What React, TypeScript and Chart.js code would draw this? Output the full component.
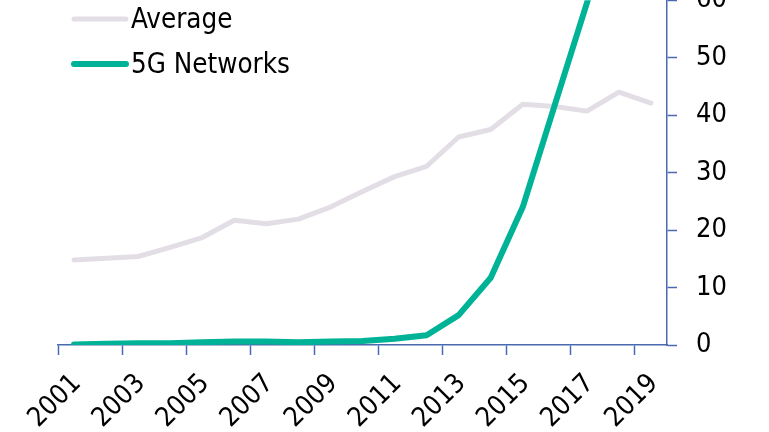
import { useEffect, useRef } from "react";
import { Chart, registerables } from "chart.js";

Chart.register(...registerables);

const years = ["2001", "2002", "2003", "2004", "2005", "2006", "2007", "2008", "2009", "2010", "2011", "2012", "2013", "2014", "2015", "2016", "2017", "2018", "2019"];
const averageValues = [14.8, 15.1, 15.4, 17.0, 18.7, 21.7, 21.1, 21.9, 24.0, 26.7, 29.3, 31.1, 36.2, 37.5, 41.9, 41.5, 40.7, 44.0, 42.1];
const networkValues = [0.1, 0.2, 0.3, 0.3, 0.5, 0.6, 0.6, 0.5, 0.6, 0.7, 1.1, 1.7, 5.2, 11.7, 24.0, 41.8, 59.5, 78.0, 95.0];
const seriesNames = ["Average", "5G Networks"];
const yMin = 0;
const yMax = 60;
const yStep = 10;

const AVG_COLOR = "#E3DEE6";
const NET_COLOR = "#00B396";
const AXIS_COLOR = "#4A6AAF";
const FONT_FAMILY = "'DejaVu Sans Condensed', 'DejaVu Sans', sans-serif";
const FONT_SIZE = 27;
const SHIFT = 35; // canvas is shifted up; top of plot area is cut at page top

const legendPlugin = {
  id: "insideLegend",
  afterDraw(chart: any) {
    const ctx = chart.ctx as CanvasRenderingContext2D;
    const rows = [
      { y: 19, base: 28 },
      { y: 64, base: 73 },
    ];
    ctx.save();
    chart.data.datasets.forEach((ds: any, i: number) => {
      const r = rows[i];
      ctx.beginPath();
      ctx.strokeStyle = ds.borderColor;
      ctx.lineWidth = ds.borderWidth;
      ctx.lineCap = "round";
      ctx.moveTo(74, r.y + SHIFT);
      ctx.lineTo(126, r.y + SHIFT);
      ctx.stroke();
      ctx.fillStyle = "#000000";
      ctx.font = `${FONT_SIZE + 0.5}px ${FONT_FAMILY}`;
      ctx.textAlign = "left";
      ctx.textBaseline = "alphabetic";
      ctx.fillText(ds.label, 131, r.base + SHIFT);
    });
    ctx.restore();
  },
};

export default function App() {
  const ref = useRef<HTMLCanvasElement | null>(null);

  useEffect(() => {
    document.body.style.margin = "0";
    if (!ref.current) return;
    const chart = new Chart(ref.current, {
      type: "line",
      data: {
        labels: years,
        datasets: [
          {
            label: seriesNames[0],
            data: averageValues,
            borderColor: AVG_COLOR,
            backgroundColor: AVG_COLOR,
            borderWidth: 5,
            pointRadius: 0,
            tension: 0,
            borderCapStyle: "round",
            borderJoinStyle: "round",
            order: 2,
          },
          {
            label: seriesNames[1],
            data: networkValues,
            borderColor: NET_COLOR,
            backgroundColor: NET_COLOR,
            borderWidth: 6,
            pointRadius: 0,
            tension: 0,
            borderCapStyle: "round",
            borderJoinStyle: "round",
            order: 1,
          },
        ],
      },
      options: {
        responsive: false,
        animation: false,
        events: [],
        layout: { padding: { top: SHIFT, left: 58, right: 0, bottom: 0 } },
        plugins: {
          legend: { display: false },
          tooltip: { enabled: false },
        },
        scales: {
          x: {
            type: "category",
            offset: true,
            grid: {
              display: true,
              offset: true,
              drawOnChartArea: false,
              drawTicks: true,
              tickLength: 10,
              tickWidth: 1.5,
              tickColor: (c: any) => (typeof c.index === "number" && c.index % 2 === 0 ? AXIS_COLOR : "rgba(0,0,0,0)"),
            },
            border: { display: true, color: AXIS_COLOR, width: 1.5 },
            ticks: {
              autoSkip: false,
              maxRotation: 45,
              minRotation: 45,
              padding: 13,
              labelOffset: 3,
              color: "#000000",
              font: { family: FONT_FAMILY, size: FONT_SIZE },
              callback: (_v: any, i: number) => (i % 2 === 0 ? years[i] : ""),
            },
            afterFit: (scale: any) => {
              scale.height = 87;
            },
          },
          y: {
            type: "linear",
            position: "right",
            min: yMin,
            max: yMax,
            grid: {
              display: true,
              drawOnChartArea: false,
              drawTicks: true,
              tickLength: 10,
              tickWidth: 1.5,
              tickColor: AXIS_COLOR,
            },
            border: { display: true, color: AXIS_COLOR, width: 1.5 },
            ticks: {
              stepSize: yStep,
              padding: 19,
              color: "#000000",
              font: { family: FONT_FAMILY, size: FONT_SIZE },
            },
            afterFit: (scale: any) => {
              scale.width = 102;
            },
          },
        },
      },
      plugins: [legendPlugin],
    });
    return () => chart.destroy();
  }, []);

  return (
    <div style={{ position: "relative", width: 769, height: 432, overflow: "hidden", background: "#ffffff" }}>
      <canvas
        ref={ref}
        width={769}
        height={432 + SHIFT}
        style={{ position: "absolute", left: 0, top: -SHIFT, width: 769, height: 432 + SHIFT, display: "block" }}
      />
    </div>
  );
}
